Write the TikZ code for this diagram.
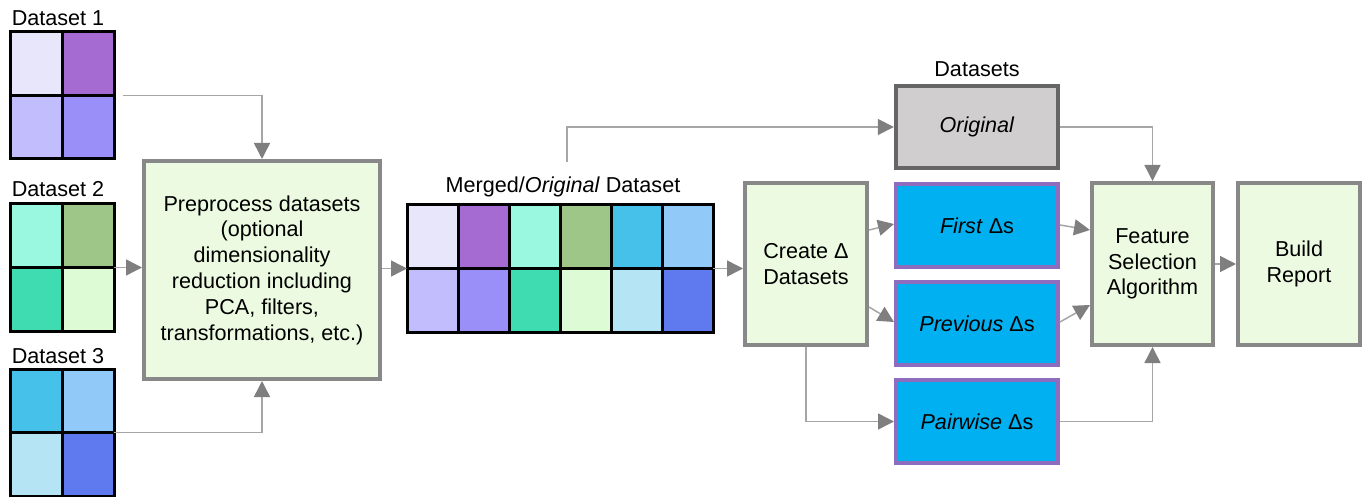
\documentclass[tikz,border=0pt]{standalone}
\usepackage{fontspec}
\setmainfont{Liberation Sans}
\usetikzlibrary{arrows.meta,fit,calc}
\definecolor{ca}{HTML}{E8E6FB}
\definecolor{cb}{HTML}{A66BD2}
\definecolor{cc}{HTML}{C2BDFD}
\definecolor{cd}{HTML}{9A8EF9}
\definecolor{ce}{HTML}{99F8DF}
\definecolor{cf}{HTML}{9DC688}
\definecolor{cg}{HTML}{3FDCB2}
\definecolor{ch}{HTML}{DDFBD4}
\definecolor{ci}{HTML}{45C1EA}
\definecolor{cj}{HTML}{91CAF8}
\definecolor{ck}{HTML}{B5E5F5}
\definecolor{cl}{HTML}{5F79EE}
\definecolor{boxgreen}{HTML}{EBFAE0}
\definecolor{boxborder}{HTML}{888888}
\definecolor{origfill}{HTML}{D0CECF}
\definecolor{origborder}{HTML}{666666}
\definecolor{deltafill}{HTML}{00B0F0}
\definecolor{deltaborder}{HTML}{8E6DBF}
\definecolor{linegray}{HTML}{A6A6A6}
\definecolor{tipgray}{HTML}{7F7F7F}
\tikzset{
  txt/.style={font=\fontsize{10.8pt}{12.9pt}\selectfont, align=center},
  lbl/.style={font=\fontsize{10.8pt}{12.9pt}\selectfont, inner sep=0pt},
  cellA/.style={draw=black, line width=1.5pt, minimum width=26pt, minimum height=31.75pt, inner sep=0pt, outer sep=0pt},
  cellB/.style={draw=black, line width=1.5pt, minimum width=25.5pt, minimum height=31.75pt, inner sep=0pt, outer sep=0pt},
  greenbox/.style={txt, draw=boxborder, fill=boxgreen, line width=2pt, inner sep=0pt},
  origbox/.style={txt, draw=origborder, fill=origfill, line width=2.2pt, inner sep=0pt},
  deltabox/.style={txt, draw=deltaborder, fill=deltafill, line width=2pt, inner sep=0pt},
  arr/.style={draw=linegray, line width=0.75pt, -{Triangle[length=8pt,width=8pt,color=tipgray]}},
  gridfit/.style={inner sep=0pt, outer sep=0pt}
}
\begin{document}
\begin{tikzpicture}[x=0.5pt,y=-0.5pt]
\useasboundingbox (0,0) rectangle (1364,497);
% Dataset 1
\node[lbl, anchor=base] (l1) at (58,26) {Dataset 1};
\node[cellA, fill=ca] (d1a) at (36,63.75) {};
\node[cellA, fill=cb] (d1b) at (88,63.75) {};
\node[cellA, fill=cc] (d1c) at (36,127.25) {};
\node[cellA, fill=cd] (d1d) at (88,127.25) {};
\node[gridfit, fit=(d1a)(d1d)] (g1) {};
% Dataset 2
\node[lbl, anchor=base] (l2) at (58,197) {Dataset 2};
\node[cellA, fill=ce] (d2a) at (36,235.75) {};
\node[cellA, fill=cf] (d2b) at (88,235.75) {};
\node[cellA, fill=cg] (d2c) at (36,299.25) {};
\node[cellA, fill=ch] (d2d) at (88,299.25) {};
\node[gridfit, fit=(d2a)(d2d)] (g2) {};
% Dataset 3
\node[lbl, anchor=base] (l3) at (58,363) {Dataset 3};
\node[cellA, fill=ci] (d3a) at (36,400.75) {};
\node[cellA, fill=cj] (d3b) at (88,400.75) {};
\node[cellA, fill=ck] (d3c) at (36,464.25) {};
\node[cellA, fill=cl] (d3d) at (88,464.25) {};
\node[gridfit, fit=(d3a)(d3d)] (g3) {};
% Preprocess
\node[greenbox, minimum width=118pt, minimum height=109pt] (pre) at (262,270)
  {Preprocess datasets\\(optional\\dimensionality\\reduction including\\PCA, filters,\\transformations, etc.)};
% Merged dataset
\node[lbl, anchor=base] (ml) at (563,193) {Merged/\textit{Original} Dataset};
\foreach \c/\col [count=\i] in {0/ca,1/cb,2/ce,3/cf,4/ci,5/cj}{
  \node[cellB, fill=\col] (mt\i) at ({432.5+51*\c},236.75) {};
}
\foreach \c/\col [count=\i] in {0/cc,1/cd,2/cg,3/ch,4/ck,5/cl}{
  \node[cellB, fill=\col] (mb\i) at ({432.5+51*\c},300.25) {};
}
\node[gridfit, fit=(mt1)(mb6)] (mg) {};
\coordinate (mtop) at (567,162);
% Create
\node[greenbox, minimum width=61pt, minimum height=81pt] (create) at (806,264) {Create Δ\\Datasets};
% Datasets column
\node[lbl, anchor=base] (dl) at (977,77) {Datasets};
\node[origbox, minimum width=81pt, minimum height=41pt] (orig) at (977,127) {\textit{Original}};
\node[deltabox, minimum width=81pt, minimum height=41.5pt] (first) at (977,225.5) {\textit{First} Δs};
\node[deltabox, minimum width=81pt, minimum height=41.5pt] (prev) at (977,323.5) {\textit{Previous} Δs};
\node[deltabox, minimum width=81pt, minimum height=41.5pt] (pair) at (977,421.5) {\textit{Pairwise} Δs};
% Feature selection and report
\node[greenbox, minimum width=60.5pt, minimum height=81pt] (feat) at (1152.5,264) {Feature\\Selection\\Algorithm};
\node[greenbox, minimum width=61pt, minimum height=81pt] (build) at (1299,264) {Build\\Report};
% connectors
\draw[arr] ([shift={(9,0)}]g1.east) -| (pre.north);
\draw[arr] (g2.east) -- (g2.east -| pre.west);
\draw[arr] (g3.east) -| (pre.south);
\draw[arr] (pre.east |- mg.west) -- (mg.west);
\draw[arr] (mg.east) -- (mg.east -| create.west);
\draw[arr] (mtop) |- (orig.west);
\draw[arr] ([shift={(0,-34)}]create.east) -- ([shift={(0,-1.5)}]first.west);
\draw[arr] ([shift={(0,43)}]create.east) -- ([shift={(0,-1.5)}]prev.west);
\draw[arr] (create.south) |- (pair.west);
\draw[arr] ([shift={(0,-0.5)}]first.east) -- ([shift={(0,-34)}]feat.west);
\draw[arr] ([shift={(0,-1.5)}]prev.east) -- ([shift={(0,41)}]feat.west);
\draw[arr] (orig.east) -| (feat.north);
\draw[arr] (pair.east) -| (feat.south);
\draw[arr] (feat.east) -- (build.west);
\end{tikzpicture}
\end{document}
